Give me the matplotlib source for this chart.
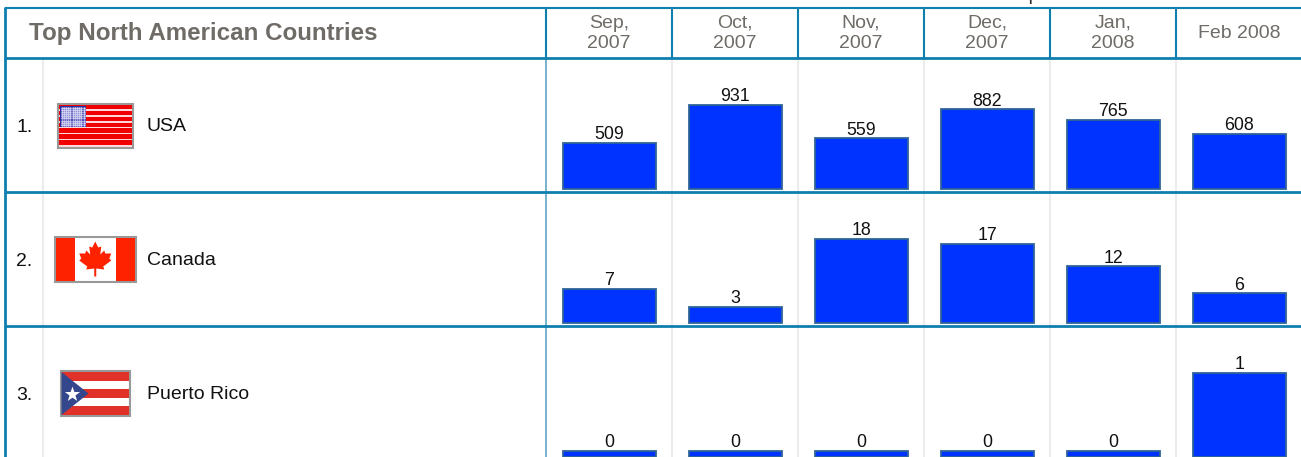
import numpy as np
import matplotlib
matplotlib.use("Agg")
import matplotlib.pyplot as plt
from matplotlib.patches import Rectangle, Polygon
from matplotlib.path import Path

plt.rcParams['font.family'] = ['Liberation Sans', 'DejaVu Sans']

TITLE = "Top North American Countries"
CLIPPED_TITLE = "North American Countries Compared"
MONTHS = ["Sep,\n2007", "Oct,\n2007", "Nov,\n2007", "Dec,\n2007", "Jan,\n2008", "Feb 2008"]
COUNTRIES = ["USA", "Canada", "Puerto Rico"]
USA = [509, 931, 559, 882, 765, 608]
CANADA = [7, 3, 18, 17, 12, 6]
PUERTO_RICO = [0, 0, 0, 0, 0, 1]
SERIES = [USA, CANADA, PUERTO_RICO]

W, H = 1301, 457
TEAL = "#0f7fae"
GREY = "#ececec"
HEAD = "#6f6b66"
BLUE = "#0033ff"
EDGE = "#2f6496"

fig = plt.figure(figsize=(W / 100, H / 100), dpi=100, facecolor="white")
bg = fig.add_axes([0, 0, 1, 1])
bg.set_xlim(0, W)
bg.set_ylim(H, 0)
bg.axis("off")

col_edges = [546, 672, 798, 924, 1050, 1176]
row_edges = [58, 192, 326, 460]


def vline(x, y0, y1, c=TEAL, lw=1.5, z=3):
    bg.plot([x, x], [y0, y1], color=c, lw=lw, solid_capstyle="butt", zorder=z)


def hline(y, x0, x1, c=TEAL, lw=1.5, z=3):
    bg.plot([x0, x1], [y, y], color=c, lw=lw, solid_capstyle="butt", zorder=z)


# light inner column rules
for x in [43] + col_edges[1:]:
    vline(x, 58, H, GREY, 1.5, 1)
# frame
hline(7.5, 5, W)
for y in row_edges[:-1]:
    hline(y, 5, W, lw=2)
vline(5, 7, H, lw=2)
for x in col_edges:
    vline(x, 7, 58)
vline(546, 58, H, "#5fa6c6", 1.2, 2)

bg.text(29, 33.5, TITLE, fontsize=17.4, fontweight="bold", color=HEAD, va="center", ha="left")
bg.text(918, -5, CLIPPED_TITLE, fontsize=14, color="#333333", va="center", ha="center",
        clip_on=True)
for i, m in enumerate(MONTHS):
    bg.text(col_edges[i] + 63, 33.5, m, fontsize=14, color=HEAD, va="center", ha="center",
            linespacing=1.3)

# rows
for r, name in enumerate(COUNTRIES):
    top = row_edges[r]
    mid = top + 67
    bg.text(16, mid + 2.5, f"{r + 1}.", fontsize=14, color="#111111", va="center", ha="left")
    bg.text(147, mid + 1.5, name, fontsize=14, color="#111111", va="center", ha="left")


def flag_usa(x0, y0, w, h):
    bg.add_patch(Rectangle((x0, y0), w, h, fc="#ffd9d9", ec="#999999", lw=1.5, zorder=3))
    n = 7
    sh = (h - 3) / n
    for k in range(n):
        bg.add_patch(Rectangle((x0 + 1.5, y0 + 1.5 + k * sh), w - 3, sh - 1.4,
                               fc="#f00000", ec="none", zorder=4))
    bg.add_patch(Rectangle((x0 + 2, y0 + 2), 26, 21.5, fc="#2b2ca6", ec="none", zorder=5))
    xs, ys = np.meshgrid(np.linspace(x0 + 4, x0 + 26, 11), np.linspace(y0 + 4, y0 + 21.5, 9))
    bg.scatter(xs.ravel(), ys.ravel(), s=3.0, c="#d4d4f4", linewidths=0, zorder=6)


def flag_canada(x0, y0, w, h):
    bg.add_patch(Rectangle((x0, y0), w, h, fc="white", ec="#999999", lw=1.5, zorder=3))
    bw = 19
    bg.add_patch(Rectangle((x0 + 1, y0 + 1), bw, h - 2, fc="#ff2200", ec="none", zorder=4))
    bg.add_patch(Rectangle((x0 + w - bw - 1, y0 + 1), bw, h - 2, fc="#ff2200", ec="none", zorder=4))
    cx, cy = x0 + w / 2, y0 + h / 2
    leaf = [(0, -18), (3, -12), (6, -13), (5, -5), (9, -9), (10, -6), (16, -6), (14, -1),
            (16, 1), (8, 7), (9, 10), (1, 9), (1, 17), (-1, 17), (-1, 9), (-9, 10), (-8, 7),
            (-16, 1), (-14, -1), (-16, -6), (-10, -6), (-9, -9), (-5, -5), (-6, -13), (-3, -12)]
    bg.add_patch(Polygon([(cx + a, cy + b) for a, b in leaf], closed=True, fc="#ff2200",
                         ec="none", zorder=5))


def flag_pr(x0, y0, w, h):
    bg.add_patch(Rectangle((x0, y0), w, h, fc="white", ec="#999999", lw=1.5, zorder=3))
    sh = (h - 2) / 5
    for k in (0, 2, 4):
        bg.add_patch(Rectangle((x0 + 1, y0 + 1 + k * sh), w - 2, sh, fc="#e1322a", ec="none", zorder=4))
    bg.add_patch(Polygon([(x0 + 1, y0 + 1), (x0 + 28, y0 + h / 2), (x0 + 1, y0 + h - 1)],
                         closed=True, fc="#34468c", ec="none", zorder=5))
    star = Path.unit_regular_star(5, 0.4)
    bg.scatter([x0 + 11], [y0 + h / 2 + 0.5], marker=star, s=130, c="white", linewidths=0, zorder=6)


flag_usa(57.5, 103.5, 75.5, 44)
flag_canada(54.5, 237, 81.5, 45)
flag_pr(60.5, 371, 69.5, 45)

# bars: one axes per row, value scale per row, 84 px for the row maximum
BAR_W = 93
STEP = 126
LEFT = 546.6
MAX_PX = 83.5
floor_px = [0, 2, 6]
base_y = [188.6, 322.6, 456.6]
x_pos = np.arange(len(MONTHS))
for r, vals in enumerate(SERIES):
    vmax = max(vals)
    px = MAX_PX
    ax = fig.add_axes([LEFT / W, (H - base_y[r]) / H, STEP * 6 / W, px / H])
    ax.patch.set_alpha(0)
    off = vmax * floor_px[r] / (px - floor_px[r])
    ax.set_xlim(-0.5, 5.5)
    ax.set_ylim(-off, vmax)
    ax.axis("off")
    ax.bar(x_pos, np.array(vals) + off, bottom=-off, width=BAR_W / STEP, color=BLUE,
           edgecolor=EDGE, linewidth=1.3, clip_on=False)
    for x, v in zip(x_pos, vals):
        ax.annotate(str(v), (x, v), xytext=(-0.3, -0.2), textcoords="offset points", ha="center",
                    va="bottom", fontsize=12.8, color="#111111", annotation_clip=False)

fig.savefig("out.png", dpi=100, facecolor="white")
